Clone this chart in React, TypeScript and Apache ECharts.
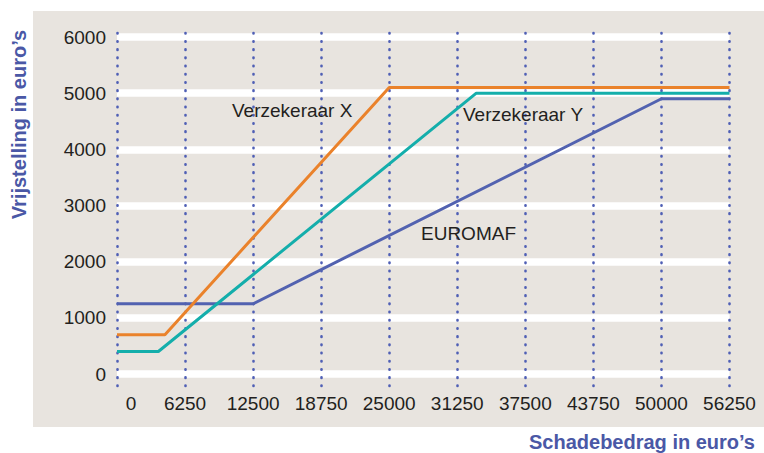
import React, { useEffect, useRef } from "react";
import * as echarts from "echarts";

const xTicks = [0, 6250, 12500, 18750, 25000, 31250, 37500, 43750, 50000, 56250];
const yTicks = [0, 1000, 2000, 3000, 4000, 5000, 6000];

const euromafX = [0, 12500, 50000, 56250];
const euromafY = [1250, 1250, 4900, 4900];
const verzXX = [0, 4400, 25000, 56250];
const verzXY = [700, 700, 5100, 5100];
const verzYX = [0, 3800, 33000, 56250];
const verzYY = [400, 400, 5000, 5000];

const labelX = "Verzekeraar X";
const labelY = "Verzekeraar Y";
const labelE = "EUROMAF";
const xTitle = "Schadebedrag in euro’s";
const yTitle = "Vrijstelling in euro’s";

const FONT = '"Liberation Sans", Arial, sans-serif';
const BLUE_T = "#4a58a6";
const TXT = "#231f20";

function pairs(xs: number[], ys: number[]) {
  return xs.map((x, i) => [x, ys[i]]);
}

export default function App() {
  const ref = useRef<HTMLDivElement>(null);
  useEffect(() => {
    if (!ref.current) return;
    const chart = echarts.init(ref.current, undefined, { renderer: "svg" });
    const xMin = xTicks[0];
    const xMax = xTicks[xTicks.length - 1];
    const xInt = xTicks[1] - xTicks[0];
    chart.setOption({
      animation: false,
      backgroundColor: "#ffffff",
      grid: [
        { left: 117, right: 34.5, top: 37, bottom: 79 },
        { left: 117, right: 34.5, top: 33, bottom: 67 },
      ],
      xAxis: [
        { gridIndex: 0, type: "value", min: xMin, max: xMax, interval: xInt, show: false },
        {
          gridIndex: 1,
          type: "value",
          min: xMin,
          max: xMax,
          interval: xInt,
          z: 1,
          axisLine: { show: false },
          axisTick: { show: false },
          splitLine: {
            show: true,
            lineStyle: { color: "#4f5fb5", width: 2.6, type: [0.5, 7.7], cap: "round" },
          },
          axisLabel: {
            margin: 8,
            fontSize: 19,
            fontFamily: FONT,
            color: TXT,
            formatter: (v: number) => (v === 0 ? "{z|0}" : String(v)),
            rich: { z: { padding: [0, 0, 0, 28], fontSize: 19, fontFamily: FONT, color: TXT } },
          },
        },
      ],
      yAxis: [
        {
          gridIndex: 0,
          type: "value",
          min: yTicks[0],
          max: yTicks[yTicks.length - 1],
          interval: yTicks[1] - yTicks[0],
          z: 0,
          axisLine: { show: false },
          axisTick: { show: false },
          splitLine: { show: true, lineStyle: { color: "#ffffff", width: 7.5 } },
          axisLabel: {
            margin: 11,
            fontSize: 19,
            fontFamily: FONT,
            color: TXT,
            formatter: (v: number) => String(v),
          },
        },
        { gridIndex: 1, type: "value", min: 0, max: 1, show: false, splitLine: { show: false } },
      ],
      series: [
        {
          type: "line",
          name: labelE,
          xAxisIndex: 0,
          yAxisIndex: 0,
          data: pairs(euromafX, euromafY),
          symbol: "none",
          lineStyle: { color: "#5262b0", width: 3 },
          z: 3,
        },
        {
          type: "line",
          name: labelY,
          xAxisIndex: 0,
          yAxisIndex: 0,
          data: pairs(verzYX, verzYY),
          symbol: "none",
          lineStyle: { color: "#14aeab", width: 3 },
          z: 3,
        },
        {
          type: "line",
          name: labelX,
          xAxisIndex: 0,
          yAxisIndex: 0,
          data: pairs(verzXX, verzXY),
          symbol: "none",
          lineStyle: { color: "#ea822b", width: 3 },
          z: 3,
        },
      ],
      graphic: [
        {
          type: "rect",
          z: -10,
          silent: true,
          shape: { x: 33, y: 11, width: 731, height: 416 },
          style: { fill: "#e8e4df" },
        },
        {
          type: "text",
          x: 232,
          y: 110,
          z: 5,
          style: { text: labelX, font: `19px ${FONT}`, fill: TXT, textAlign: "left", textVerticalAlign: "middle" },
        },
        {
          type: "text",
          x: 463,
          y: 114,
          z: 5,
          style: { text: labelY, font: `19px ${FONT}`, fill: TXT, textAlign: "left", textVerticalAlign: "middle" },
        },
        {
          type: "text",
          x: 421,
          y: 233,
          z: 5,
          style: { text: labelE, font: `19px ${FONT}`, fill: TXT, textAlign: "left", textVerticalAlign: "middle" },
        },
        {
          type: "text",
          x: 755,
          y: 441.5,
          z: 5,
          style: { text: xTitle, font: `bold 20px ${FONT}`, fill: BLUE_T, textAlign: "right", textVerticalAlign: "middle" },
        },
        {
          type: "text",
          x: 19,
          y: 124.5,
          rotation: Math.PI / 2,
          z: 5,
          style: { text: yTitle, font: `bold 20px ${FONT}`, fill: BLUE_T, textAlign: "center", textVerticalAlign: "middle" },
        },
      ],
    });
    return () => chart.dispose();
  }, []);
  return (
    <div
      ref={ref}
      style={{ position: "fixed", left: 0, top: 0, width: 764, height: 453 }}
    />
  );
}
